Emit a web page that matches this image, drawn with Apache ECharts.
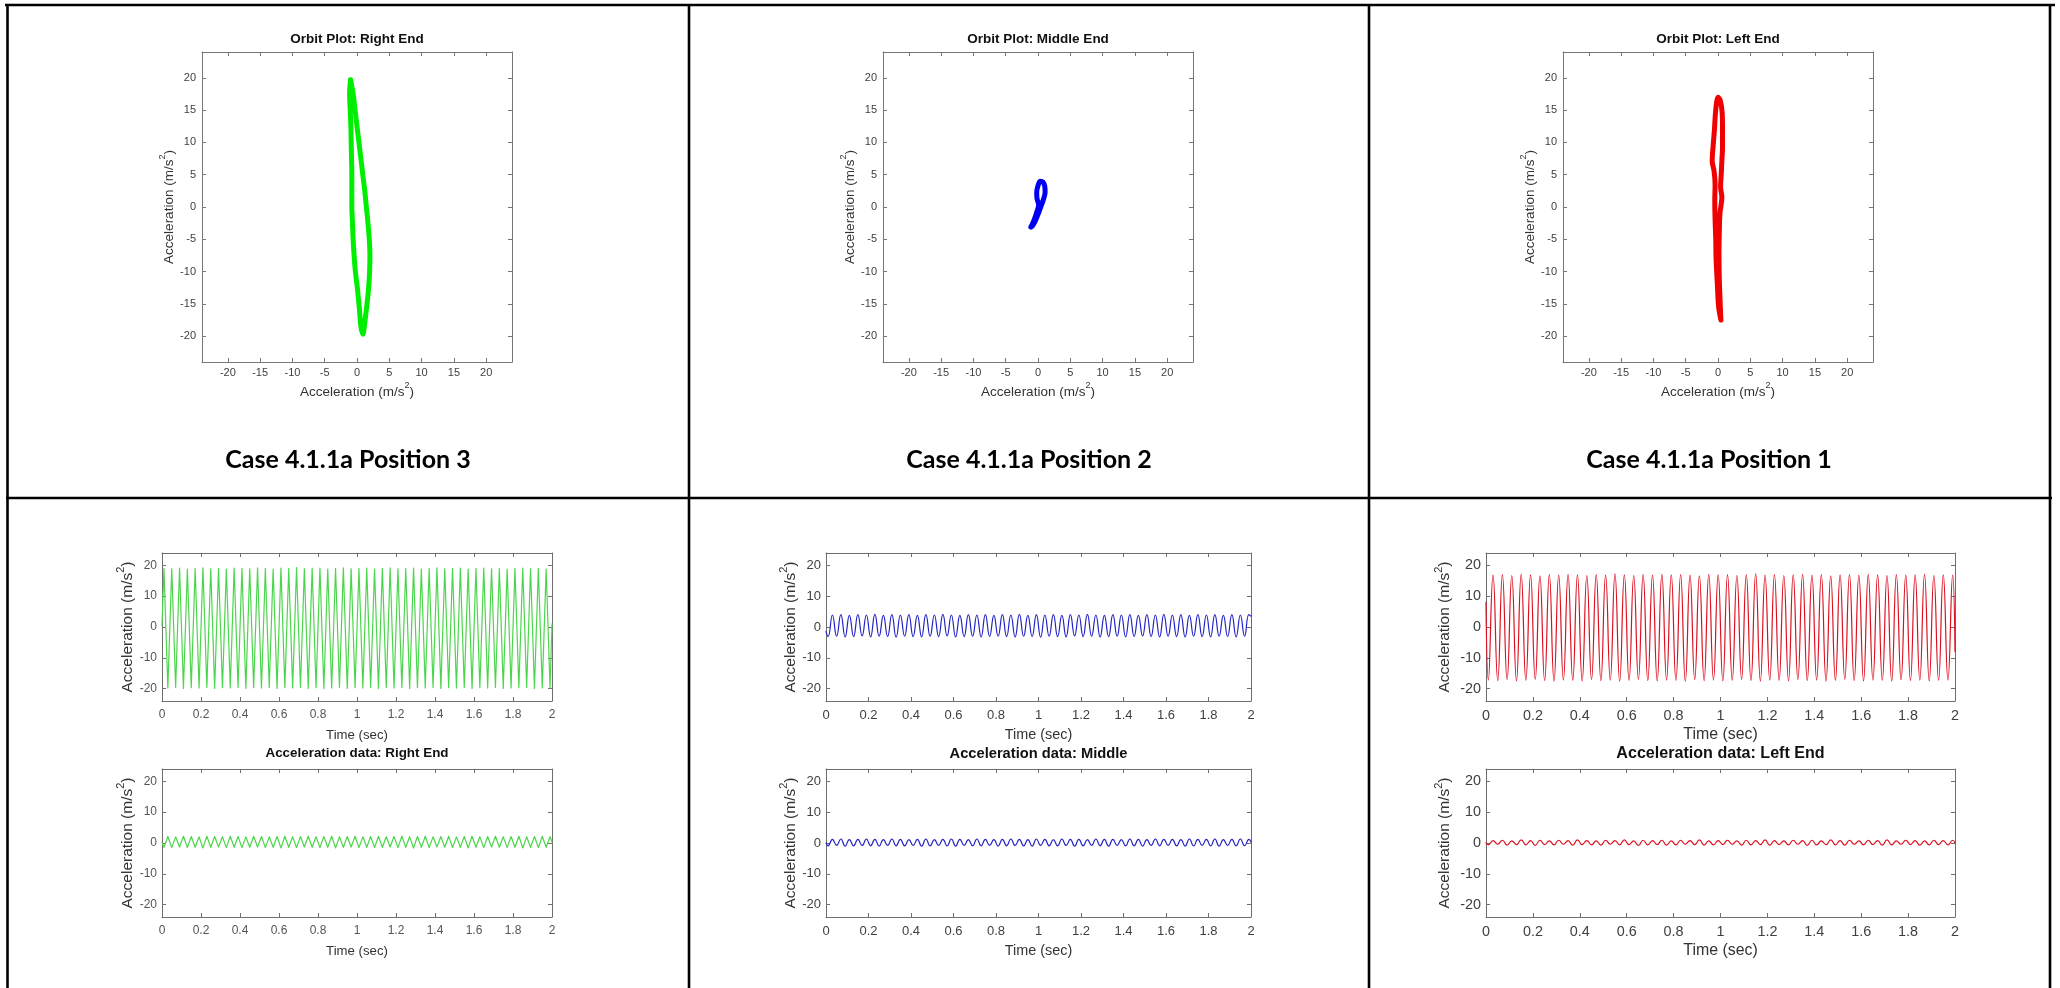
<!DOCTYPE html>
<html><head><meta charset="utf-8">
<script src="https://cdn.jsdelivr.net/npm/echarts@6/dist/echarts.min.js"></script>
<style>html,body{margin:0;padding:0;background:#fff;}#c{width:2060px;height:988px;}</style>
</head><body><div id="c"></div>
<script>
// ---------------- DATA ----------------
const orbitTicks = [-20, -15, -10, -5, 0, 5, 10, 15, 20];
const accTicks = [-20, -10, 0, 10, 20];
const timeTicks = [0, 0.2, 0.4, 0.6, 0.8, 1, 1.2, 1.4, 1.6, 1.8, 2];

const caseLabels = ['Case 4.1.1a Position 3', 'Case 4.1.1a Position 2', 'Case 4.1.1a Position 1'];
const orbitTitles = ['Orbit Plot: Right End', 'Orbit Plot: Middle End', 'Orbit Plot: Left End'];
const accTitles = ['Acceleration data: Right End', 'Acceleration data: Middle', 'Acceleration data: Left End'];

// Orbit plots (x = lower sensor, y = upper sensor), traced loops
const orbitRightX = [-1.0, -0.6, -0.3, 0.0, 0.3, 0.6, 0.9, 1.2, 1.45, 1.7, 1.9, 2.0, 1.95, 1.8, 1.55, 1.25, 0.9,
  0.6, 0.35, 0.05, -0.25, -0.45, -0.6, -0.7, -0.8, -0.8, -0.8, -0.85, -0.9, -0.95, -1.05, -1.15, -1.0];
const orbitRightY = [19.7, 17.5, 15.0, 12.5, 10.0, 7.5, 5.0, 2.5, 0.0, -2.5, -5.0, -7.5, -10.0, -12.5, -15.0, -17.5, -19.7,
  -18.5, -15.5, -12.5, -10.0, -7.5, -5.0, -2.5, 0.0, 2.5, 5.0, 7.5, 10.0, 12.5, 15.0, 17.5, 19.7];

const orbitMiddleX = [-1.1, -0.6, -0.2, 0.1, -0.15, -0.2, 0.0, 0.35, 0.75, 1.05, 1.1, 0.85, 0.5, 0.1, -0.4, -0.9, -1.1];
const orbitMiddleY = [-3.1, -2.0, -0.8, 0.3, 1.3, 2.3, 3.3, 4.0, 3.9, 3.2, 2.3, 1.2, 0.2, -0.9, -2.1, -3.0, -3.1];

const orbitLeftX = [0.45, 0.1, -0.1, -0.3, -0.35, -0.45, -0.5, -0.45, -0.6, -0.9, -0.75, -0.55, -0.4, -0.2, 0.0,
  0.35, 0.65, 0.7, 0.7, 0.6, 0.5, 0.4, 0.6, 0.3, 0.2, 0.15, 0.2, 0.3, 0.45];
const orbitLeftY = [-17.5, -15.5, -12.0, -8.0, -5.0, -2.0, 1.0, 3.5, 5.5, 7.2, 9.5, 12.0, 14.5, 16.3, 17.0,
  16.5, 14.5, 12.0, 9.3, 7.2, 5.0, 3.1, 1.5, -1.0, -4.0, -7.0, -11.0, -14.0, -17.5];

// Time stamps (s) of the sampled extremes
const timeSec = [0,
  0.01,0.03,0.05,0.07,0.09,0.11,0.13,0.15,0.17,0.19,0.21,0.23,0.25,0.27,0.29,0.31,0.33,0.35,0.37,0.39,
  0.41,0.43,0.45,0.47,0.49,0.51,0.53,0.55,0.57,0.59,0.61,0.63,0.65,0.67,0.69,0.71,0.73,0.75,0.77,0.79,
  0.81,0.83,0.85,0.87,0.89,0.91,0.93,0.95,0.97,0.99,1.01,1.03,1.05,1.07,1.09,1.11,1.13,1.15,1.17,1.19,
  1.21,1.23,1.25,1.27,1.29,1.31,1.33,1.35,1.37,1.39,1.41,1.43,1.45,1.47,1.49,1.51,1.53,1.55,1.57,1.59,
  1.61,1.63,1.65,1.67,1.69,1.71,1.73,1.75,1.77,1.79,1.81,1.83,1.85,1.87,1.89,1.91,1.93,1.95,1.97,1.99,
  2];

const accRightTop = [0.5,
  19.0,-19.8, 18.9,-19.6, 19.1,-19.9, 18.8,-19.7, 19.0,-19.8, 19.2,-19.6, 18.9,-19.9, 19.0,-19.7, 18.8,-19.8, 19.1,-19.6,
  19.0,-19.9, 18.9,-19.7, 19.2,-19.8, 19.0,-19.6, 18.8,-19.9, 19.1,-19.7, 19.0,-19.8, 19.3,-19.6, 18.9,-19.9, 19.0,-19.7,
  19.1,-20.0, 18.8,-19.8, 19.0,-19.6, 19.2,-19.9, 18.9,-19.7, 19.0,-19.8, 19.1,-19.6, 18.8,-19.9, 19.0,-19.7, 19.2,-19.8,
  18.9,-19.6, 19.0,-19.9, 19.1,-19.7, 18.8,-19.8, 19.0,-19.6, 19.2,-19.9, 18.9,-19.7, 19.0,-19.8, 19.1,-19.6, 18.8,-19.9,
  19.0,-19.7, 19.1,-19.8, 18.9,-19.6, 19.0,-19.9, 18.8,-19.8, 19.0,-19.7, 19.1,-19.6, 18.9,-19.9, 19.0,-19.8, 18.8,-19.7,
  1.0];
const accRightBottom = [0.2,
  -1.4,2.1, -1.5,2.0, -1.3,2.2, -1.5,2.1, -1.4,2.0, -1.6,2.2, -1.4,2.1, -1.3,2.0, -1.5,2.2, -1.4,2.1,
  -1.5,2.0, -1.4,2.2, -1.3,2.1, -1.5,2.0, -1.4,2.1, -1.6,2.2, -1.4,2.0, -1.5,2.1, -1.3,2.2, -1.4,2.0,
  -1.5,2.1, -1.4,2.2, -1.6,2.0, -1.4,2.1, -1.3,2.2, -1.5,2.0, -1.4,2.1, -1.5,2.2, -1.4,2.0, -1.3,2.1,
  -1.5,2.2, -1.4,2.0, -1.6,2.1, -1.4,2.2, -1.5,2.0, -1.3,2.1, -1.4,2.2, -1.5,2.0, -1.4,2.1, -1.6,2.2,
  -1.4,2.0, -1.5,2.1, -1.3,2.2, -1.4,2.0, -1.5,2.1, -1.4,2.2, -1.6,2.0, -1.4,2.1, -1.5,2.2, -1.4,2.0,
  0.3];
const accMiddleTop = [-1.5,
  -3.1,3.9, -3.0,4.0, -3.2,3.8, -3.1,4.0, -2.9,3.9, -3.2,4.1, -3.0,3.8, -3.1,4.0, -3.3,3.9, -3.0,4.0,
  -3.1,3.8, -3.2,4.0, -3.0,3.9, -3.1,4.1, -2.9,3.9, -3.2,3.8, -3.1,4.0, -3.0,3.9, -3.2,4.0, -3.1,3.8,
  -3.0,4.0, -3.1,3.9, -3.2,4.1, -3.0,3.8, -3.1,4.0, -3.3,3.9, -3.0,4.0, -3.1,3.8, -3.2,4.0, -2.9,3.9,
  -3.1,4.1, -3.0,3.9, -3.2,3.8, -3.1,4.0, -3.0,3.9, -3.2,4.0, -3.1,3.8, -2.9,4.0, -3.1,3.9, -3.2,4.1,
  -3.0,3.9, -3.1,4.0, -3.2,3.8, -3.0,4.0, -3.1,3.9, -3.2,4.0, -3.0,3.8, -3.1,4.0, -3.2,3.9, -3.0,4.0,
  3.5];
const accMiddleBottom = [0.0,
  -0.9,1.2, -0.8,1.3, -1.0,1.1, -0.9,1.2, -0.8,1.3, -0.9,1.2, -1.0,1.1, -0.8,1.3, -0.9,1.2, -0.9,1.1,
  -0.8,1.2, -1.0,1.3, -0.9,1.1, -0.8,1.2, -0.9,1.3, -1.0,1.2, -0.8,1.1, -0.9,1.3, -0.9,1.2, -0.8,1.1,
  -1.0,1.2, -0.9,1.3, -0.8,1.2, -0.9,1.1, -1.0,1.3, -0.8,1.2, -0.9,1.1, -0.9,1.3, -0.8,1.2, -1.0,1.2,
  -0.9,1.1, -0.8,1.3, -0.9,1.2, -1.0,1.2, -0.8,1.1, -0.9,1.3, -0.9,1.2, -1.0,1.1, -0.8,1.3, -0.9,1.2,
  -0.8,1.2, -0.9,1.1, -1.0,1.3, -0.9,1.2, -0.8,1.2, -0.9,1.3, -1.0,1.1, -0.8,1.2, -0.9,1.3, -0.9,1.2,
  0.3];
const accLeftTop = [8.0,
  -17.2,16.8, -17.4,17.0, -17.1,16.7, -17.5,17.1, -17.3,16.9, -17.0,16.6, -17.4,17.0, -17.6,16.8, -17.2,17.1, -17.3,16.9,
  -17.5,16.7, -17.1,17.0, -17.4,16.8, -17.2,17.2, -17.6,16.9, -17.3,16.7, -17.0,17.0, -17.4,16.8, -17.5,17.1, -17.2,16.9,
  -17.3,17.0, -17.6,16.8, -17.1,16.6, -17.4,17.1, -17.2,16.9, -17.5,17.0, -17.3,16.7, -17.0,16.9, -17.4,17.2, -17.6,16.8,
  -17.2,17.0, -17.3,16.7, -17.5,16.9, -17.1,17.1, -17.4,16.8, -17.2,17.0, -17.6,16.6, -17.3,16.9, -17.0,17.0, -17.4,16.8,
  -17.5,17.1, -17.2,16.9, -17.3,16.7, -17.6,17.0, -17.1,16.8, -17.4,16.9, -17.2,17.1, -17.5,16.7, -17.3,16.9, -17.2,16.8,
  -8.0];
const accLeftBottom = [0.1,
  -0.6,0.8, -0.4,0.9, -0.7,0.7, -0.5,1.0, -0.6,0.8, -0.8,0.9, -0.5,0.7, -0.6,0.9, -0.4,0.8, -0.7,1.0,
  -0.5,0.8, -0.6,0.7, -0.7,0.9, -0.4,0.8, -0.6,1.0, -0.5,0.7, -0.8,0.9, -0.6,0.8, -0.5,0.9, -0.7,0.7,
  -0.6,0.9, -0.4,0.8, -0.5,1.0, -0.7,0.7, -0.6,0.8, -0.5,0.9, -0.4,0.7, -0.7,0.9, -0.6,0.8, -0.5,1.0,
  -0.7,0.8, -0.5,0.7, -0.6,0.9, -0.4,0.8, -0.8,0.9, -0.6,0.7, -0.5,1.0, -0.6,0.8, -0.7,0.9, -0.4,0.7,
  -0.6,0.9, -0.5,0.8, -0.7,1.0, -0.6,0.7, -0.4,0.9, -0.5,0.8, -0.7,0.7, -0.6,0.9, -0.5,0.8, -0.6,0.9,
  0.0];

// ---------------- BUILD ----------------
const FONT = "'Liberation Sans', Arial, Helvetica, sans-serif";
const grids = [], xAxes = [], yAxes = [], series = [], titles = [];

function accName(fs) {
  return {
    text: '{n|Acceleration (m/s}{s|2}{n|)}',
    style: {
      fontFamily: FONT, color: '#333',
      rich: {
        n: { fontSize: fs, fontFamily: FONT, color: '#333', verticalAlign: 'bottom', lineHeight: Math.round(fs * 1.3) },
        s: { fontSize: Math.round(fs * 0.68), fontFamily: FONT, color: '#333', verticalAlign: 'top', lineHeight: Math.round(fs * 1.3) }
      }
    }
  };
}

function addPanel(p) {
  const gi = grids.length;
  grids.push({ left: p.left, top: p.top, width: p.width, height: p.height, containLabel: false });
  const lineStyle = { color: p.axisColor, width: 1 };
  const tick = (vals) => ({ show: true, inside: true, length: 4, lineStyle: lineStyle, customValues: vals });
  const xn = p.xName;
  xAxes.push({
    gridIndex: gi, type: 'value', position: 'bottom', min: p.xMin, max: p.xMax,
    axisLine: { show: true, onZero: false, lineStyle: lineStyle }, axisTick: tick(p.xTicks),
    axisLabel: { customValues: p.xTicks, fontSize: p.tickFs, color: p.labelColor, fontFamily: FONT, margin: p.xLabelMargin },
    splitLine: { show: false },
    name: xn.text, nameLocation: 'middle', nameGap: p.xNameGap, nameTextStyle: xn.style
  });
  xAxes.push({
    gridIndex: gi, type: 'value', position: 'top', min: p.xMin, max: p.xMax,
    axisLine: { show: true, onZero: false, lineStyle: lineStyle }, axisTick: tick(p.xTicks),
    axisLabel: { show: false }, splitLine: { show: false }
  });
  const yn = accName(p.yNameFs);
  yAxes.push({
    gridIndex: gi, type: 'value', position: 'left', min: p.yMin, max: p.yMax,
    axisLine: { show: true, onZero: false, lineStyle: lineStyle }, axisTick: tick(p.yTicks),
    axisLabel: { customValues: p.yTicks, fontSize: p.tickFs, color: p.labelColor, fontFamily: FONT, margin: p.yLabelMargin },
    splitLine: { show: false },
    name: yn.text, nameLocation: 'middle', nameGap: p.yNameGap, nameTextStyle: yn.style
  });
  yAxes.push({
    gridIndex: gi, type: 'value', position: 'right', min: p.yMin, max: p.yMax,
    axisLine: { show: true, onZero: false, lineStyle: lineStyle }, axisTick: tick(p.yTicks),
    axisLabel: { show: false }, splitLine: { show: false }
  });
  series.push({
    type: 'line', xAxisIndex: 2 * gi, yAxisIndex: 2 * gi,
    data: p.data, showSymbol: false, symbol: 'none', smooth: p.smooth, clip: true,
    lineStyle: { color: p.color, width: p.lineWidth, cap: 'round', join: 'round' },
    silent: true
  });
  if (p.title) {
    titles.push({
      text: p.title, left: p.left + p.width / 2, top: p.titleTop, textAlign: 'center', padding: 0,
      textStyle: { fontSize: p.titleFs, fontWeight: 'bold', color: '#111', fontFamily: FONT }
    });
  }
}

function pairs(xs, ys) { return xs.map((x, i) => [x, ys[i]]); }

// Orbit panels
const orbitCfg = [
  { left: 202, xs: orbitRightX, ys: orbitRightY, color: '#00ee00', title: orbitTitles[0] },
  { left: 883, xs: orbitMiddleX, ys: orbitMiddleY, color: '#0000f0', title: orbitTitles[1] },
  { left: 1563, xs: orbitLeftX, ys: orbitLeftY, color: '#f00000', title: orbitTitles[2] }
];
orbitCfg.forEach(o => addPanel({
  left: o.left, top: 52, width: 310, height: 310,
  xMin: -24, xMax: 24, yMin: -24, yMax: 24, xTicks: orbitTicks, yTicks: orbitTicks,
  axisColor: '#767676', labelColor: '#404040', tickFs: 11, xLabelMargin: 5, yLabelMargin: 6,
  xName: accName(13.5), xNameGap: 19, yNameFs: 13.5, yNameGap: 25,
  data: pairs(o.xs, o.ys), smooth: 0.35, color: o.color, lineWidth: 5,
  title: o.title, titleTop: 32, titleFs: 13.5
}));

// Acceleration time histories
const accCfg = [
  { left: 162, width: 390, top: accRightTop, bot: accRightBottom, color: '#4cd64c', smooth: false, tickFs: 12, nameFs: 13.2, titleFs: 13.4, yGap: 24, labelColor: '#555', title: accTitles[0] },
  { left: 826, width: 425, top: accMiddleTop, bot: accMiddleBottom, color: '#2323c4', smooth: 0.5, tickFs: 13, nameFs: 14.4, titleFs: 14.7, yGap: 26, labelColor: '#404040', title: accTitles[1] },
  { left: 1486, width: 469, top: accLeftTop, bot: accLeftBottom, color: '#dd1020', smooth: 0.5, tickFs: 14.4, nameFs: 15.9, titleFs: 16.1, yGap: 33, labelColor: '#404040', title: accTitles[2] }
];
accCfg.forEach(a => {
  [[553, a.top, null], [769, a.bot, a.title]].forEach(([top, vals, title]) => addPanel({
    left: a.left, top: top, width: a.width, height: 148,
    xMin: 0, xMax: 2, yMin: -24, yMax: 24, xTicks: timeTicks, yTicks: accTicks,
    axisColor: '#6e6e6e', labelColor: a.labelColor, tickFs: a.tickFs, xLabelMargin: 8, yLabelMargin: 5,
    xName: { text: 'Time (sec)', style: { fontSize: a.nameFs, color: '#333', fontFamily: FONT } },
    xNameGap: 34 - a.nameFs / 2, yNameFs: 15.5, yNameGap: a.yGap,
    data: pairs(timeSec, vals), smooth: a.smooth, color: a.color, lineWidth: 1.2,
    title: title, titleTop: 754 - a.titleFs / 2, titleFs: a.titleFs
  }));
});

// Table lines and case labels
const tableLines = [
  [5, 5, 2055, 5], [7.5, 4, 7.5, 988], [689, 5, 689, 988], [1369, 5, 1369, 988], [2050, 5, 2050, 988], [6, 498, 2052, 498]
];
const graphics = tableLines.map(l => ({
  type: 'line', shape: { x1: l[0], y1: l[1], x2: l[2], y2: l[3] },
  style: { stroke: '#000', lineWidth: 2.6 }, silent: true, z: 100
}));
const cellCenters = [348, 1029, 1709];
caseLabels.forEach((t, i) => graphics.push({
  type: 'text', x: cellCenters[i], y: 460,
  style: { text: t, font: "bold 25px Lato, 'Open Sans', sans-serif", fill: '#000', align: 'center', verticalAlign: 'middle' },
  silent: true
}));

const chart = echarts.init(document.getElementById('c'), null, { renderer: 'canvas' });
chart.setOption({
  animation: false,
  backgroundColor: '#fff',
  title: titles,
  grid: grids,
  xAxis: xAxes,
  yAxis: yAxes,
  series: series,
  graphic: graphics
});
</script></body></html>
